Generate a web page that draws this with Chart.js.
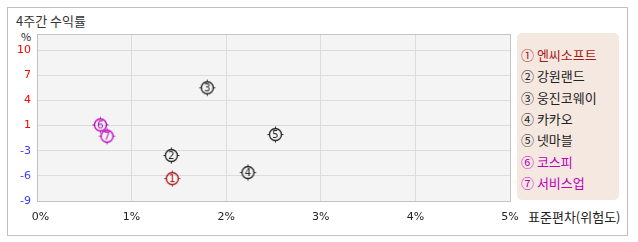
<!DOCTYPE html>
<html><head><meta charset="utf-8">
<script src="https://cdn.jsdelivr.net/npm/chart.js@4/dist/chart.umd.min.js"></script>
<style>
html,body{margin:0;padding:0;background:#fff;}
#wrap{position:relative;width:638px;height:242px;overflow:hidden;font-family:"Noto Sans CJK KR","Noto Sans",sans-serif;}
#frame{position:absolute;left:7px;top:7px;width:621px;height:229px;border:1px solid #c0c0c0;box-sizing:border-box;}
#title{position:absolute;left:16px;top:12px;font-size:13px;line-height:17px;color:#333;white-space:nowrap;}
#unit{position:absolute;left:21px;top:29px;font-size:11px;line-height:14px;color:#222;}
#xtitle{position:absolute;left:528px;top:208px;font-size:13px;line-height:17px;color:#222;white-space:nowrap;}
#legend{position:absolute;left:517px;top:33px;width:102px;height:167px;background:#f5e8e1;border-radius:5px;}
#legend div{position:absolute;left:4px;font-size:13px;line-height:17px;white-space:nowrap;}
canvas{position:absolute;left:0;top:0;}
</style></head>
<body>
<div id="wrap">
  <div id="frame"></div>
  <div id="title">4주간 수익률</div>
  <div id="unit">%</div>
  <div id="xtitle">표준편차(위험도)</div>
  <div id="legend"></div>
  <canvas id="c" width="638" height="242"></canvas>
</div>
<script>
// ---- data ----
const marks = ['①','②','③','④','⑤','⑥','⑦'];
const names = ['엔씨소프트','강원랜드','웅진코웨이','카카오','넷마블','코스피','서비스업'];
const risk = [1.43, 1.42, 1.80, 2.23, 2.52, 0.67, 0.74];      // x: 표준편차 (%)
const returns = [-6.18, -3.28, 5.25, -5.42, -0.63, 0.58, -0.84]; // y: 4주간 수익률 (%)
const colors = ['#a81818','#222222','#222222','#222222','#222222','#bb00bb','#bb00bb'];
const xTicks = [0, 1, 2, 3, 4, 5];
const yTicks = [-9, -5.8333, -2.6667, 0.5, 3.6667, 6.8333, 10];
const yMin = -9, yMax = 12.02;

// legend (HTML text)
const lg = document.getElementById('legend');
names.forEach((n, i) => {
  const d = document.createElement('div');
  d.textContent = marks[i] + ' ' + n;
  d.style.top = (13 + i * 21.33) + 'px';
  d.style.color = colors[i];
  lg.appendChild(d);
});

// marker images
function markerImg(num, color) {
  const s = 19, c = document.createElement('canvas');
  c.width = s; c.height = s;
  const g = c.getContext('2d');
  const cx = 9.5, cy = 9.5, r = 6;
  g.strokeStyle = color; g.lineWidth = 1.3;
  g.beginPath(); g.arc(cx, cy, r, 0, Math.PI * 2); g.stroke();
  g.lineWidth = 1;
  g.beginPath();
  g.moveTo(cx, cy - r - 2); g.lineTo(cx, cy - r);
  g.moveTo(cx, cy + r); g.lineTo(cx, cy + r + 2);
  g.moveTo(cx - r - 2, cy); g.lineTo(cx - r, cy);
  g.moveTo(cx + r, cy); g.lineTo(cx + r + 2, cy);
  g.stroke();
  g.fillStyle = color;
  g.font = '10px "DejaVu Sans", sans-serif';
  g.textAlign = 'center'; g.textBaseline = 'middle';
  g.fillText(String(num), cx, cy + 0.5);
  return c;
}
const styles = colors.map((c, i) => markerImg(i + 1, c));

const plotBg = {
  id: 'plotBg',
  beforeDraw(chart) {
    const {ctx, chartArea: a} = chart;
    ctx.save(); ctx.fillStyle = '#f4f4f4';
    ctx.fillRect(a.left, a.top, a.right - a.left, a.bottom - a.top);
    ctx.restore();
  },
  beforeDatasetsDraw(chart) {
    const {ctx, chartArea: a} = chart;
    ctx.save(); ctx.strokeStyle = '#c4c4c4'; ctx.lineWidth = 1;
    ctx.strokeRect(Math.round(a.left) + 0.5, Math.round(a.top) + 0.5,
      Math.round(a.right - a.left), Math.round(a.bottom - a.top));
    ctx.restore();
  }
};

new Chart(document.getElementById('c'), {
  type: 'scatter',
  data: {
    datasets: [{
      data: risk.map((x, i) => ({x: x, y: returns[i]})),
      pointStyle: styles,
      pointRadius: 9,
      pointHoverRadius: 9
    }]
  },
  options: {
    responsive: false,
    animation: false,
    events: [],
    layout: {padding: {left: 0, top: 34, right: 128, bottom: 0}},
    plugins: {legend: {display: false}, tooltip: {enabled: false}},
    scales: {
      x: {
        type: 'linear', min: 0, max: 5,
        afterFit(s) { s.height = 41; },
        afterBuildTicks(s) { s.ticks = xTicks.map(v => ({value: v})); },
        grid: {color: '#dcdcdc', drawTicks: false},
        border: {display: false},
        ticks: {
          padding: 10, color: '#222', maxRotation: 0, autoSkip: false,
          font: {size: 11, family: '"DejaVu Sans", sans-serif'},
          callback: v => (v === 0 ? '  ' : '') + v + '%'
        }
      },
      y: {
        type: 'linear', min: yMin, max: yMax,
        afterFit(s) { s.width = 37; },
        afterBuildTicks(s) { s.ticks = yTicks.map(v => ({value: v})); },
        grid: {color: '#dcdcdc', drawTicks: false},
        border: {display: false},
        ticks: {
          padding: 6, autoSkip: false,
          font: {size: 11, family: '"DejaVu Sans", sans-serif'},
          color: ctx => ctx.tick.value >= 0 ? '#ff0000' : '#3a3aff',
          callback: v => String(Math.round(v))
        }
      }
    }
  },
  plugins: [plotBg]
});
</script>
</body></html>
